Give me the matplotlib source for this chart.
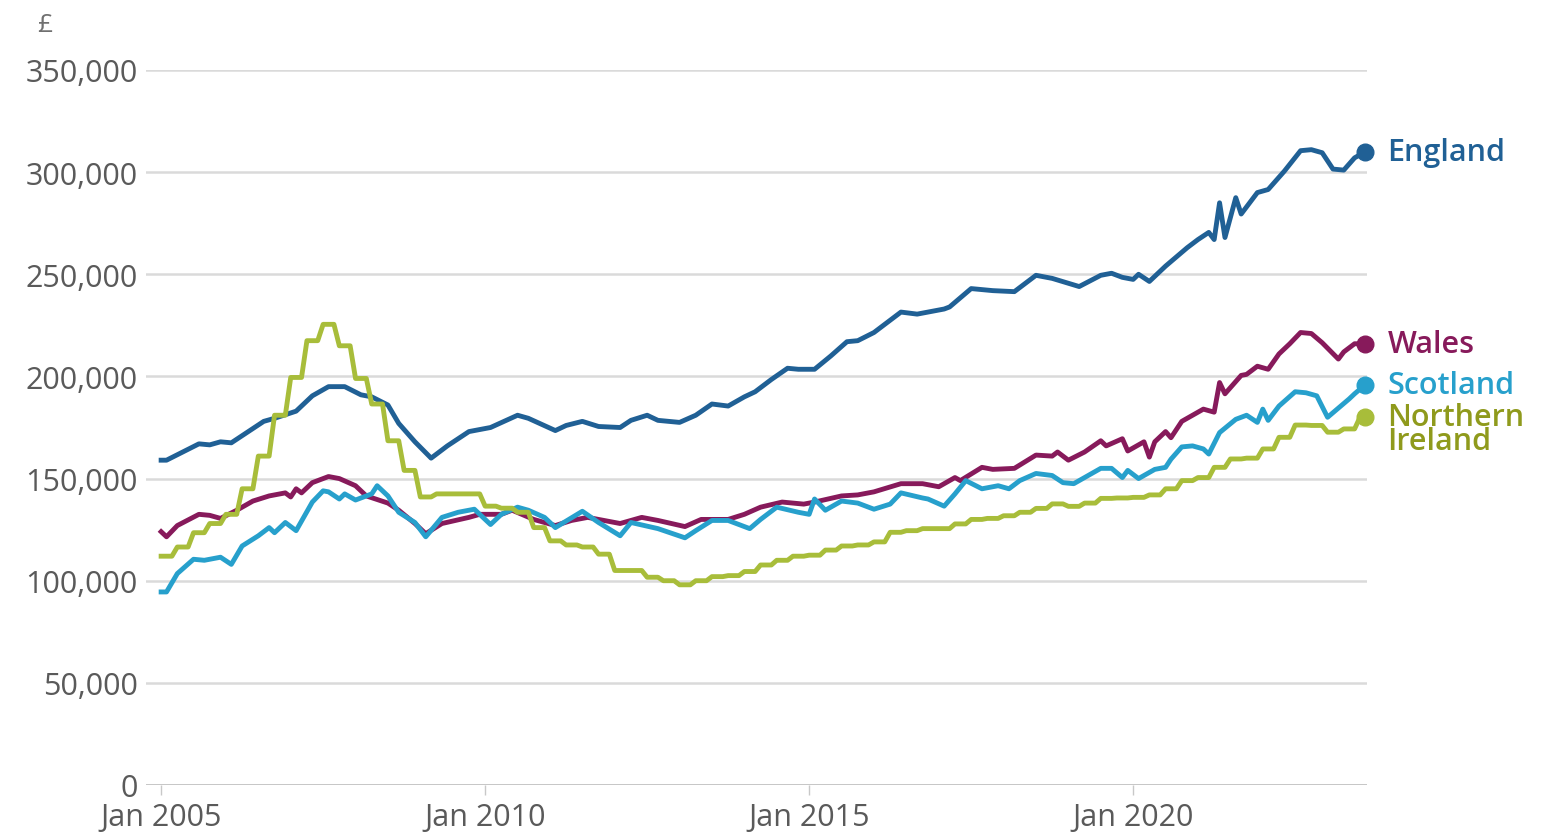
import numpy as np
import matplotlib
matplotlib.use('Agg')
import matplotlib.pyplot as plt

plt.rcParams['font.family'] = ['Open Sans', 'DejaVu Sans']

# months since Jan 2005, average house price in thousands of pounds
england_m = [0, 1, 4, 7, 9, 11, 13, 15, 19, 21, 25, 28, 31, 34, 37, 39, 42, 44, 47, 50,
             53, 57, 61, 66, 68, 73, 75, 78, 81, 85, 87, 90, 92, 96, 99, 102, 105, 108, 110, 113,
             116, 118, 121, 124, 127, 129, 132, 137, 140, 145, 146, 150, 154, 158, 162, 165, 170, 174, 176, 178,
             180, 181, 183, 186, 190, 192, 194, 195, 196, 197, 199, 200, 203, 205, 208, 211, 213, 215, 217, 219,
             221, 223]
england_v = [159, 159, 163, 167, 166.5, 168, 167.5, 171, 178, 179.5, 183, 190.5, 195, 195, 191, 190, 186, 177, 168, 160,
             166, 173, 175, 181, 179.5, 173.5, 176, 178, 175.5, 175, 178.5, 181, 178.5, 177.5, 181, 186.5, 185.5, 190, 192.5, 198.5,
             204, 203.5, 203.5, 210, 217, 217.5, 221.5, 231.5, 230.5, 233, 234, 243, 242, 241.5, 249.5, 248, 244, 249.5, 250.5, 248.5,
             247.5, 250, 246.5, 254, 263, 267, 270.5, 267, 285, 268, 287.5, 279.5, 290, 291.5, 300.5, 310.5, 311, 309.5, 301.5, 301,
             307, 310]

wales_m = [0, 1, 3, 7, 9, 11, 14, 17, 20, 23, 24, 25, 26, 28, 31, 33, 36, 38, 42, 44,
           47, 49, 52, 57, 59, 63, 65, 69, 73, 76, 79, 82, 85, 89, 92, 97, 100, 105, 108, 111,
           115, 119, 121, 126, 129, 132, 137, 141, 144, 147, 148, 152, 154, 158, 162, 165, 166, 168, 171, 174,
           175, 178, 179, 182, 183, 184, 186, 187, 189, 191, 193, 195, 196, 197, 200, 201, 203, 205, 207, 209,
           211, 213, 215, 218, 219, 221, 223]
wales_v = [124, 121.5, 127, 132.5, 132, 130.5, 134.5, 139, 141.5, 143, 141, 145, 143, 148, 151, 150, 146.5, 141.5, 138, 134.5,
           128, 123, 128, 131, 132.5, 132.5, 134.5, 130, 127, 129.5, 131, 129.5, 128, 131, 129.5, 126.5, 130, 130, 132.5, 136,
           138.5, 137.5, 138.5, 141.5, 142, 143.5, 147.5, 147.5, 146, 150.5, 149, 155.5, 154.5, 155, 161.5, 161, 163, 159, 163, 168.5,
           166, 169.5, 163.5, 168, 160.5, 168, 173, 170, 178, 181, 184, 182.5, 197, 191.5, 200.5, 201, 205, 203.5, 211, 216,
           221.5, 221, 216.5, 208.5, 212, 216, 216]

scotland_m = [0, 1, 3, 6, 8, 11, 13, 15, 18, 20, 21, 23, 25, 28, 30, 31, 33, 34, 36, 39,
              40, 42, 44, 47, 49, 52, 55, 58, 61, 63, 66, 68, 71, 73, 78, 81, 85, 87, 92, 97,
              99, 102, 105, 109, 111, 114, 118, 120, 121, 123, 126, 129, 132, 135, 137, 141, 142, 145, 147, 149,
              152, 155, 157, 159, 162, 165, 167, 169, 171, 174, 176, 178, 179, 181, 184, 186, 187, 189, 191, 193,
              194, 196, 199, 201, 203, 204, 205, 207, 210, 212, 214, 216, 220, 221, 223]
scotland_v = [94.5, 94.5, 103.5, 110.5, 110, 111.5, 108, 117, 122, 126, 123.5, 128.5, 124.5, 138.5, 144, 143.5, 140, 142.5, 139.5, 142.5,
              146.5, 141.5, 133.5, 128.5, 121.5, 131, 133.5, 135, 127.5, 132.5, 136, 134.5, 131, 126, 134, 128.5, 122, 128.5, 125.5, 121,
              124.5, 129.5, 129.5, 125.5, 130, 136, 133.5, 132.5, 140, 134.5, 139, 138, 135, 137.5, 143, 140.5, 140, 136.5, 142.5, 149,
              145, 146.5, 145, 149, 152.5, 151.5, 148, 147.5, 150.5, 155, 155, 150.5, 154, 150, 154.5, 155.5, 159.5, 165.5, 166, 164.5,
              162, 172.5, 179, 181, 177.5, 184, 178.5, 185.5, 192.5, 192, 190.5, 180, 189, 191.5, 196]

# Northern Ireland is quarterly (Q1 2005 onwards)
ni_q = [112, 116.5, 123.5, 128, 132.5, 145, 161, 181, 199.5, 217.5,
        225.5, 215, 199, 186.5, 168.5, 154, 141, 142.5, 142.5, 142.5,
        136.5, 135.5, 133.5, 126, 119.5, 117.5, 116.5, 113, 105, 105,
        101.7, 100, 98, 100, 102, 102.5, 104.5, 107.7, 110, 112,
        112.5, 115, 117, 117.5, 119, 123.7, 124.5, 125.5, 125.5, 127.8,
        130, 130.5, 131.8, 133.5, 135.4, 137.6, 136.4, 138, 140.3, 140.5,
        140.8, 142, 145, 149, 150.5, 155.5, 159.6, 160, 164.5, 170.2,
        176.2, 176, 172.7, 174.3, 180]
last_month = 223

tick_months = [0, 60, 120, 180]
tick_labels = ['Jan 2005', 'Jan 2010', 'Jan 2015', 'Jan 2020']

ni_v = np.repeat(ni_q, 3)[:last_month + 1]
ni_m = np.arange(len(ni_v))

series = [
    ('England', england_m, england_v, '#206095'),
    ('Wales', wales_m, wales_v, '#871A5B'),
    ('Scotland', scotland_m, scotland_v, '#27A0CC'),
    ('Northern Ireland', ni_m, ni_v, '#A8BD3A'),
]

fig = plt.figure(figsize=(15.63, 8.37), dpi=100)
ax = fig.add_axes([146 / 1563, 1 - 786 / 837, (1367 - 146) / 1563, (786 - 71) / 837])

for name, m, v, col in series:
    m = np.asarray(m)
    v = np.asarray(v) * 1000
    ax.plot(m, v, color=col, lw=3.5, solid_joinstyle='round', zorder=3)
    ax.plot(m[-1], v[-1], 'o', color=col, ms=12, clip_on=False, zorder=4)

# end labels
lab_kw = dict(textcoords='offset points', va='center', ha='left', fontsize=22,
              fontweight='semibold', annotation_clip=False)
ax.annotate('England', (england_m[-1], england_v[-1] * 1000), xytext=(16, 0),
            color='#206095', **lab_kw)
ax.annotate('Wales', (wales_m[-1], wales_v[-1] * 1000), xytext=(16, 0),
            color='#871A5B', **lab_kw)
ax.annotate('Scotland', (scotland_m[-1], scotland_v[-1] * 1000), xytext=(16, 0),
            color='#27A0CC', **lab_kw)
ax.annotate('Northern', (ni_m[-1], ni_v[-1] * 1000), xytext=(16, 0),
            color='#8f9a1c', **lab_kw)
ax.annotate('Ireland', (ni_m[-1], ni_v[-1] * 1000), xytext=(16, -17),
            color='#8f9a1c', **lab_kw)

ax.set_xlim(-2.8, 223.3)
ax.set_ylim(0, 350000)
ax.set_yticks(np.arange(0, 350001, 50000))
ax.set_yticklabels([f'{int(t):,}' for t in np.arange(0, 350001, 50000)])
ax.set_xticks(tick_months)
ax.set_xticklabels(tick_labels)

ax.grid(axis='y', color='#dadada', lw=1.8)
ax.grid(axis='x', visible=False)
ax.set_axisbelow(True)
for s in ax.spines.values():
    s.set_visible(False)
ax.axhline(0, color='#c4c4c4', lw=2, zorder=1)

ax.tick_params(axis='y', length=0, pad=6, labelsize=22, labelcolor='#5a5a5a')
ax.tick_params(axis='x', length=7, width=1, color='#c8c8c8', pad=5, labelsize=22,
               labelcolor='#5a5a5a')

fig.text(45 / 1563, 1 - 25 / 837, '£', fontsize=19, color='#707070', ha='center', va='center')

fig.savefig('out.png', dpi=100)
